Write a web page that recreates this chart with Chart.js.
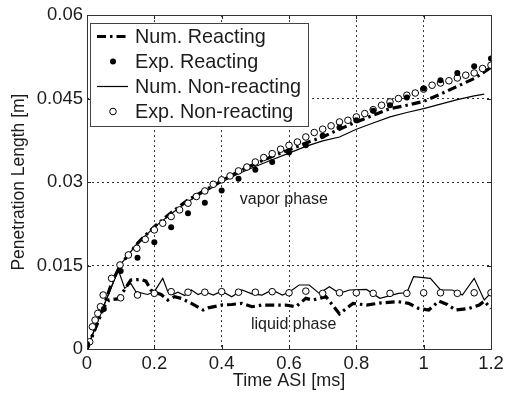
<!DOCTYPE html>
<html>
<head>
<meta charset="utf-8">
<script src="https://cdn.jsdelivr.net/npm/chart.js@4.4.1/dist/chart.umd.min.js"></script>
<style>
  html, body { margin: 0; padding: 0; background: #fff; }
</style>
</head>
<body>
<canvas id="chart" width="511" height="393"></canvas>
<script>
// time after start of injection [ms] and penetration length [m]
const numReactVaporT = [0, 0.02, 0.05, 0.075, 0.1, 0.15, 0.2, 0.25, 0.3, 0.35, 0.4, 0.45, 0.5, 0.55, 0.6, 0.65, 0.7, 0.75, 0.8, 0.85, 0.9, 0.95, 1.0, 1.05, 1.1, 1.15, 1.2];
const numReactVaporL = [0, 0.003, 0.0078, 0.0121, 0.0152, 0.019, 0.022, 0.0245, 0.0268, 0.0285, 0.0302, 0.0319, 0.0333, 0.0346, 0.0358, 0.037, 0.0381, 0.0395, 0.0408, 0.042, 0.0432, 0.0438, 0.0445, 0.0458, 0.0472, 0.0486, 0.0506];

const numReactLiquidT = [0, 0.02, 0.05, 0.065, 0.09, 0.11, 0.13, 0.16, 0.175, 0.19, 0.2, 0.22, 0.24, 0.26, 0.28, 0.31, 0.345, 0.36, 0.4, 0.43, 0.46, 0.49, 0.52, 0.56, 0.59, 0.62, 0.65, 0.67, 0.71, 0.75, 0.79, 0.83, 0.875, 0.925, 0.955, 0.985, 1.015, 1.045, 1.07, 1.095, 1.135, 1.165, 1.18, 1.2];
const numReactLiquidL = [0, 0.003, 0.0075, 0.0088, 0.009, 0.0105, 0.0124, 0.0125, 0.0122, 0.0106, 0.0102, 0.0098, 0.0088, 0.0094, 0.0091, 0.0082, 0.007, 0.0074, 0.0079, 0.008, 0.0082, 0.0076, 0.0079, 0.0079, 0.0079, 0.0076, 0.0091, 0.0088, 0.0094, 0.0063, 0.0082, 0.0079, 0.0083, 0.0085, 0.0082, 0.0073, 0.007, 0.0086, 0.008, 0.007, 0.0073, 0.0079, 0.0086, 0.0073];

const numNonVaporT = [0, 0.05, 0.1, 0.15, 0.2, 0.25, 0.3, 0.35, 0.4, 0.45, 0.5, 0.55, 0.6, 0.65, 0.7, 0.75, 0.8, 0.85, 0.9, 0.95, 1.0, 1.05, 1.1, 1.15, 1.18];
const numNonVaporL = [0, 0.0078, 0.0152, 0.019, 0.0219, 0.0243, 0.0265, 0.0282, 0.03, 0.0315, 0.0328, 0.034, 0.0352, 0.0364, 0.0374, 0.0381, 0.0395, 0.0406, 0.0417, 0.0425, 0.0432, 0.044, 0.0448, 0.0455, 0.0458];

const numNonLiquidT = [0, 0.05, 0.093, 0.112, 0.13, 0.145, 0.18, 0.2, 0.225, 0.24, 0.255, 0.27, 0.29, 0.31, 0.33, 0.35, 0.375, 0.4, 0.43, 0.46, 0.49, 0.52, 0.55, 0.58, 0.6, 0.63, 0.66, 0.69, 0.72, 0.75, 0.78, 0.83, 0.87, 0.925, 0.95, 0.97, 1.02, 1.05, 1.085, 1.115, 1.15, 1.18, 1.2];
const numNonLiquidL = [0, 0.0078, 0.0142, 0.0109, 0.0118, 0.0103, 0.0098, 0.0103, 0.0127, 0.0103, 0.0098, 0.0102, 0.0096, 0.0106, 0.0098, 0.0103, 0.0097, 0.0104, 0.0094, 0.0106, 0.0099, 0.0097, 0.0106, 0.0097, 0.0102, 0.0115, 0.0115, 0.01, 0.0112, 0.01, 0.0106, 0.0107, 0.0091, 0.01, 0.0101, 0.013, 0.0127, 0.0106, 0.0106, 0.0097, 0.0127, 0.0088, 0.0101];

const expReactT = [0, 0.05, 0.1, 0.15, 0.2, 0.25, 0.3, 0.35, 0.4, 0.45, 0.5, 0.55, 0.6, 0.65, 0.7, 0.75, 0.8, 0.85, 0.9, 0.95, 1.0, 1.05, 1.1, 1.15, 1.2];
const expReactL = [0.0009, 0.0072, 0.014, 0.0164, 0.0192, 0.0219, 0.0244, 0.0263, 0.0285, 0.0306, 0.0322, 0.0336, 0.0353, 0.0366, 0.0383, 0.0398, 0.0411, 0.0428, 0.0438, 0.0452, 0.0468, 0.0483, 0.0496, 0.0508, 0.0522];

const expNonVaporT = [0.008, 0.016, 0.024, 0.032, 0.04, 0.048, 0.073, 0.098, 0.123, 0.148, 0.173, 0.2, 0.225, 0.25, 0.275, 0.3, 0.325, 0.35, 0.375, 0.4, 0.425, 0.45, 0.475, 0.5, 0.525, 0.55, 0.575, 0.6, 0.625, 0.65, 0.675, 0.7, 0.725, 0.75, 0.775, 0.8, 0.825, 0.85, 0.875, 0.9, 0.925, 0.95, 0.975, 1.0, 1.025, 1.05, 1.075, 1.1, 1.125, 1.15, 1.175, 1.2];
const expNonVaporL = [0.0013, 0.004, 0.0052, 0.0064, 0.0076, 0.0097, 0.0127, 0.0151, 0.0169, 0.0181, 0.0197, 0.0214, 0.0226, 0.0238, 0.025, 0.0262, 0.0274, 0.0284, 0.0296, 0.0304, 0.0311, 0.032, 0.0327, 0.0336, 0.0344, 0.0351, 0.0359, 0.0366, 0.0372, 0.0381, 0.0389, 0.0395, 0.0401, 0.0408, 0.0411, 0.0417, 0.0423, 0.043, 0.0438, 0.0444, 0.045, 0.0456, 0.046, 0.0467, 0.0474, 0.0478, 0.0482, 0.0487, 0.0492, 0.0496, 0.0504, 0.051];

const expNonLiquidT = [0.1, 0.15, 0.2, 0.25, 0.3, 0.35, 0.4, 0.45, 0.5, 0.55, 0.6, 0.65, 0.7, 0.75, 0.8, 0.85, 0.9, 0.95, 1.0, 1.05, 1.1, 1.15, 1.2];
const expNonLiquidL = [0.0092, 0.0097, 0.01, 0.0103, 0.0102, 0.0102, 0.0103, 0.0102, 0.0102, 0.0103, 0.0101, 0.0104, 0.01, 0.0101, 0.0101, 0.01, 0.01, 0.01, 0.0101, 0.0101, 0.01, 0.0101, 0.0101];

const xTicks = ['0', '0.2', '0.4', '0.6', '0.8', '1', '1.2'];
const yTicks = ['0', '0.015', '0.03', '0.045', '0.06'];

const legendLabels = ['Num. Reacting', 'Exp. Reacting', 'Num. Non-reacting', 'Exp. Non-reacting'];

const FONT = "'Liberation Sans', Arial, Helvetica, sans-serif";
const INK = '#1c1c1c';
const DASHDOT = [9, 4, 2.5, 4];

function pts(t, v) {
  return t.map((x, i) => ({ x, y: v[i] }));
}

function lineSet(label, t, v, width, dash) {
  return {
    label, data: pts(t, v), showLine: true, pointRadius: 0,
    borderColor: '#000', borderWidth: width, borderDash: dash,
    fill: false, tension: 0, order: 3
  };
}

function dotSet(label, t, v, open) {
  return {
    label, data: pts(t, v), showLine: false,
    pointRadius: open ? 3.3 : 3,
    pointBackgroundColor: open ? '#fff' : '#000',
    pointBorderColor: '#000',
    pointBorderWidth: open ? 1 : 0,
    order: open ? 2 : 1
  };
}

const frame = {
  id: 'frame',
  afterDatasetsDraw(c) {
    const { ctx, chartArea: a, scales: { x, y } } = c;
    ctx.save();
    // MATLAB style inward ticks on all four sides
    ctx.strokeStyle = '#222';
    ctx.lineWidth = 1;
    ctx.beginPath();
    x.ticks.forEach(t => {
      const px = Math.round(x.getPixelForValue(t.value)) + 0.5;
      ctx.moveTo(px, a.bottom); ctx.lineTo(px, a.bottom - 4);
      ctx.moveTo(px, a.top); ctx.lineTo(px, a.top + 4);
    });
    y.ticks.forEach(t => {
      const py = Math.round(y.getPixelForValue(t.value)) + 0.5;
      ctx.moveTo(a.left, py); ctx.lineTo(a.left + 4, py);
      ctx.moveTo(a.right, py); ctx.lineTo(a.right - 4, py);
    });
    ctx.stroke();
    ctx.strokeStyle = '#333';
    ctx.strokeRect(Math.round(a.left) + 0.5, Math.round(a.top) + 0.5,
      Math.round(a.right - a.left), Math.round(a.bottom - a.top));

    // phase labels
    ctx.fillStyle = INK;
    ctx.font = '16px ' + FONT;
    ctx.textBaseline = 'alphabetic';
    ctx.fillText('vapor phase', x.getPixelForValue(0.454), y.getPixelForValue(0.026));
    ctx.fillText('liquid phase', x.getPixelForValue(0.487), y.getPixelForValue(0.0036));
    ctx.restore();
  },
  afterDraw(c) {
    const ctx = c.ctx;
    const bx = 90.5, by = 23.5, bw = 218, bh = 103;
    ctx.save();
    ctx.fillStyle = '#fff';
    ctx.fillRect(bx, by, bw, bh);
    ctx.strokeStyle = '#444';
    ctx.lineWidth = 1;
    ctx.strokeRect(bx, by, bw, bh);
    const rows = [36.5, 61.5, 86.5, 111.5];
    ctx.font = '19.8px ' + FONT;
    ctx.fillStyle = INK;
    ctx.textBaseline = 'alphabetic';
    legendLabels.forEach((lab, i) => {
      ctx.fillText(lab, 135, rows[i] + 6.8);
    });
    ctx.strokeStyle = '#000';
    // dash-dot sample
    ctx.lineWidth = 3.2;
    ctx.setLineDash(DASHDOT);
    ctx.beginPath(); ctx.moveTo(97, rows[0]); ctx.lineTo(127, rows[0]); ctx.stroke();
    ctx.setLineDash([]);
    // filled dot
    ctx.fillStyle = '#000';
    ctx.beginPath(); ctx.arc(113, rows[1], 3, 0, Math.PI * 2); ctx.fill();
    // thin solid
    ctx.lineWidth = 1.2;
    ctx.beginPath(); ctx.moveTo(97, rows[2]); ctx.lineTo(128, rows[2]); ctx.stroke();
    // open circle
    ctx.lineWidth = 1;
    ctx.fillStyle = '#fff';
    ctx.beginPath(); ctx.arc(113, rows[3], 3.3, 0, Math.PI * 2); ctx.fill(); ctx.stroke();
    ctx.restore();
  }
};

const tickFont = { family: FONT, size: 18.5 };

new Chart(document.getElementById('chart'), {
  type: 'scatter',
  data: {
    datasets: [
      lineSet(legendLabels[0], numReactVaporT, numReactVaporL, 3.2, DASHDOT),
      lineSet(legendLabels[0], numReactLiquidT, numReactLiquidL, 3.2, DASHDOT),
      dotSet(legendLabels[1], expReactT, expReactL, false),
      lineSet(legendLabels[2], numNonVaporT, numNonVaporL, 1.2, []),
      lineSet(legendLabels[2], numNonLiquidT, numNonLiquidL, 1.2, []),
      dotSet(legendLabels[3], expNonVaporT, expNonVaporL, true),
      dotSet(legendLabels[3], expNonLiquidT, expNonLiquidL, true)
    ]
  },
  options: {
    responsive: false,
    animation: false,
    layout: { padding: { top: 15, right: 20, left: 0, bottom: 0 } },
    plugins: { legend: { display: false }, tooltip: { enabled: false } },
    scales: {
      x: {
        type: 'linear', min: 0, max: 1.2,
        afterFit(s) { s.height = 44; },
        ticks: {
          stepSize: 0.2, color: INK, font: tickFont, padding: 4, maxRotation: 0,
          callback: (v, i) => xTicks[i]
        },
        grid: {
          drawTicks: false, lineWidth: 1,
          color: ctx => (ctx.tick && (ctx.tick.value === 0 || Math.abs(ctx.tick.value - 1.2) < 1e-6)) ? 'rgba(0,0,0,0)' : '#333'
        },
        border: { display: false, dash: [2, 3] },
        title: { display: true, text: 'Time ASI [ms]', color: INK, font: { family: FONT, size: 18 }, padding: { top: 0, bottom: 1 } }
      },
      y: {
        type: 'linear', min: 0, max: 0.06,
        afterFit(s) { s.width = 87; },
        ticks: {
          stepSize: 0.015, color: INK, font: tickFont, padding: 4,
          callback: (v, i) => yTicks[i]
        },
        grid: {
          drawTicks: false, lineWidth: 1,
          color: ctx => (ctx.tick && (ctx.tick.value === 0 || Math.abs(ctx.tick.value - 0.06) < 1e-9)) ? 'rgba(0,0,0,0)' : '#333'
        },
        border: { display: false, dash: [2, 3] },
        title: { display: true, text: 'Penetration Length [m]', color: INK, font: { family: FONT, size: 17.5 }, padding: { top: 9, bottom: 0 } }
      }
    }
  },
  plugins: [frame]
});
</script>
</body>
</html>
